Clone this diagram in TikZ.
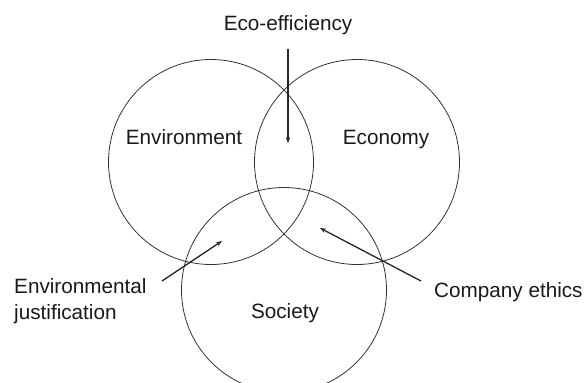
\documentclass[tikz,border=0pt]{standalone}
\usepackage{fontspec}
\setmainfont{Liberation Sans}
\usetikzlibrary{arrows.meta}
\begin{document}
\begin{tikzpicture}[x=1pt,y=-1pt,
  ring/.style={circle,draw=black!80,line width=0.8pt,minimum size=205pt,inner sep=0pt},
  lbl/.style={font=\fontsize{20.7}{26}\selectfont,inner sep=0pt,text=black!90},
  pointer/.style={draw=black!85,line width=1.3pt,-{Stealth[length=6pt,width=4.5pt]}}]
\useasboundingbox (0,0) rectangle (584,383);
\node[ring] (env) at (211,162) {};
\node[ring] (eco) at (357,162) {};
\node[ring] (soc) at (284,290) {};
\node[lbl,anchor=base] (lenv) at (184,144) {Environment};
\node[lbl,anchor=base] (leco) at (386,144) {Economy};
\node[lbl,anchor=base] (lsoc) at (285,318) {Society};
\node[lbl,anchor=base] (leff) at (288,30) {Eco-efficiency};
\node[lbl,anchor=west,align=left] (ljus) at (14,301) {Environmental\\justification};
\node[lbl,anchor=base west] (leth) at (434,297) {Company ethics};
\coordinate (effs) at (288,49);
\coordinate (efft) at (288,143);
\coordinate (juss) at (162,281);
\coordinate (just) at (222,241);
\coordinate (eths) at (421,281);
\coordinate (etht) at (320,228);
\draw[pointer] (effs) -- (efft);
\draw[pointer] (juss) -- (just);
\draw[pointer] (eths) -- (etht);
\end{tikzpicture}
\end{document}
